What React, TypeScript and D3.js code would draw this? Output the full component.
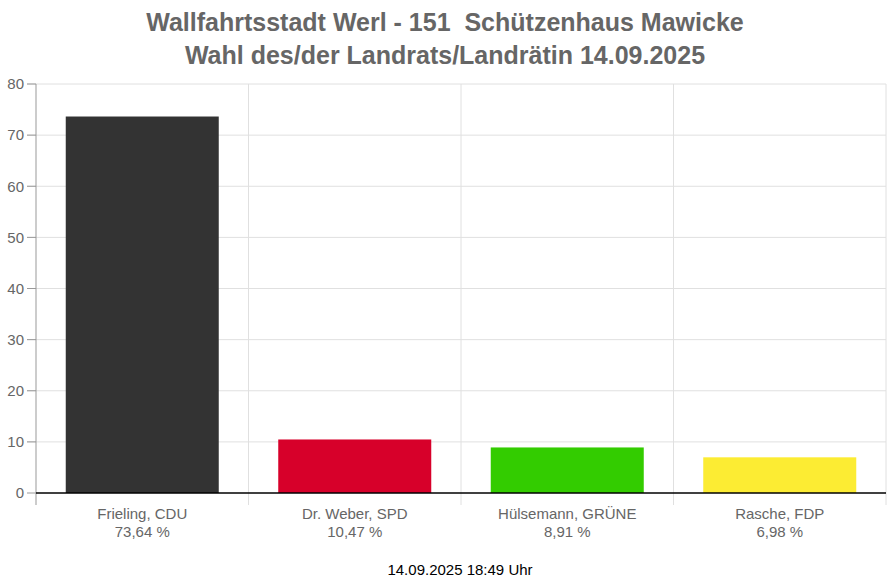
import React, { useEffect, useRef } from "react";
import * as d3 from "d3";

const titleLines = [
  "Wallfahrtsstadt Werl - 151  Schützenhaus Mawicke",
  "Wahl des/der Landrats/Landrätin 14.09.2025",
];
const candidates = ["Frieling, CDU", "Dr. Weber, SPD", "Hülsemann, GRÜNE", "Rasche, FDP"];
const shares = [73.64, 10.47, 8.91, 6.98];
const barColors = ["#333333", "#d7002a", "#33cc00", "#fcec33"];
const yTicks = [0, 10, 20, 30, 40, 50, 60, 70, 80];
const footer = "14.09.2025 18:49 Uhr";

const App: React.FC = () => {
  const svgRef = useRef<SVGSVGElement>(null);

  useEffect(() => {
    document.body.style.margin = "0";
    const width = 890;
    const height = 585;
    const margin = { top: 84, right: 4, bottom: 92, left: 36 };
    const innerW = width - margin.left - margin.right;
    const innerH = height - margin.top - margin.bottom;

    const svg = d3.select(svgRef.current).attr("width", width).attr("height", height);
    svg.selectAll("*").remove();

    const font = "'Liberation Sans', Arial, sans-serif";

    svg
      .append("g")
      .selectAll("text")
      .data(titleLines)
      .enter()
      .append("text")
      .attr("x", width / 2)
      .attr("y", (d, i) => 31 + i * 33)
      .attr("text-anchor", "middle")
      .attr("xml:space", "preserve")
      .style("white-space", "pre")
      .style("font-family", font)
      .style("font-size", "25px")
      .style("font-weight", "bold")
      .style("fill", "#666666")
      .text((d) => d);

    const g = svg
      .append("g")
      .attr("transform", "translate(" + margin.left + "," + margin.top + ")");

    const x = d3.scaleBand<string>().domain(candidates).range([0, innerW]).paddingInner(0).paddingOuter(0);
    const y = d3.scaleLinear().domain([0, 80]).range([innerH, 0]);

    // horizontal grid
    g.append("g")
      .selectAll("line")
      .data(yTicks)
      .enter()
      .append("line")
      .attr("x1", -9)
      .attr("x2", innerW)
      .attr("y1", (d) => y(d))
      .attr("y2", (d) => y(d))
      .attr("stroke", (d) => (d === 0 ? "none" : "#e0e0e0"))
      .attr("stroke-width", 1);

    // y tick marks
    g.append("g")
      .selectAll("line")
      .data(yTicks)
      .enter()
      .append("line")
      .attr("x1", -9)
      .attr("x2", 0)
      .attr("y1", (d) => y(d))
      .attr("y2", (d) => y(d))
      .attr("stroke", "#999999");

    // vertical grid
    const vLines = candidates.map((c) => x(c) || 0).concat([innerW]);
    g.append("g")
      .selectAll("line")
      .data(vLines)
      .enter()
      .append("line")
      .attr("x1", (d) => d)
      .attr("x2", (d) => d)
      .attr("y1", 0)
      .attr("y2", innerH + 12)
      .attr("stroke", (d, i) => (i === 0 ? "#999999" : "#e0e0e0"));

    g.append("g")
      .selectAll("text")
      .data(yTicks)
      .enter()
      .append("text")
      .attr("x", -12)
      .attr("y", (d) => y(d))
      .attr("dy", "0.35em")
      .attr("text-anchor", "end")
      .style("font-family", font)
      .style("font-size", "15px")
      .style("fill", "#666666")
      .text((d) => d);

    const barW = x.bandwidth() * 0.72;
    g.append("g")
      .selectAll("rect")
      .data(shares)
      .enter()
      .append("rect")
      .attr("x", (d, i) => (x(candidates[i]) || 0) + (x.bandwidth() - barW) / 2)
      .attr("width", barW)
      .attr("y", (d) => y(d))
      .attr("height", (d) => innerH - y(d))
      .attr("fill", (d, i) => barColors[i]);

    g.append("line")
      .attr("x1", 0)
      .attr("x2", innerW)
      .attr("y1", y(0))
      .attr("y2", y(0))
      .attr("stroke", "#000000")
      .attr("stroke-width", 1.3);

    const labels = g
      .append("g")
      .selectAll("text")
      .data(candidates)
      .enter()
      .append("text")
      .attr("x", (d) => (x(d) || 0) + x.bandwidth() / 2)
      .attr("y", innerH + 26)
      .attr("text-anchor", "middle")
      .style("font-family", font)
      .style("font-size", "15px")
      .style("fill", "#666666");
    labels.append("tspan").attr("x", (d) => (x(d) || 0) + x.bandwidth() / 2).text((d) => d);
    labels
      .append("tspan")
      .attr("x", (d) => (x(d) || 0) + x.bandwidth() / 2)
      .attr("dy", 18)
      .text((d, i) => shares[i].toFixed(2).replace(".", ",") + " %");

    svg
      .append("text")
      .attr("x", 460)
      .attr("y", 575)
      .attr("text-anchor", "middle")
      .style("font-family", font)
      .style("font-size", "15px")
      .style("fill", "#000000")
      .text(footer);
  }, []);

  return (
    <div style={{ position: "absolute", left: 0, top: 0 }}>
      <svg ref={svgRef}></svg>
    </div>
  );
};

export default App;
